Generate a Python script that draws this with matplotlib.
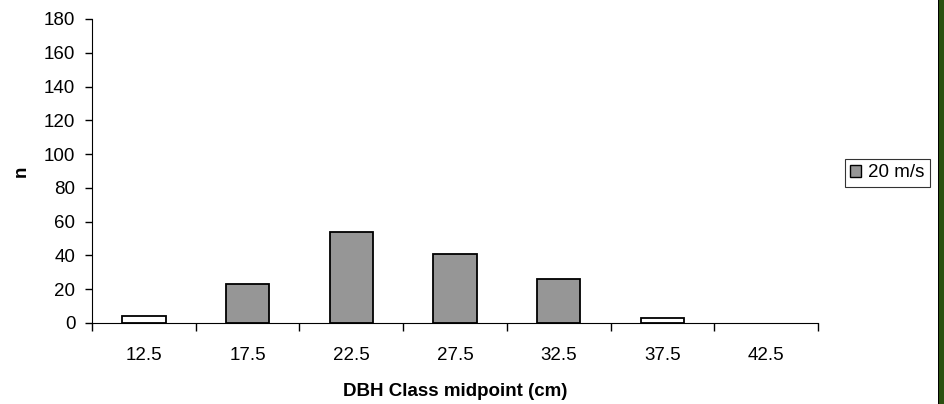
import numpy as np
import matplotlib.pyplot as plt
from matplotlib.patches import Rectangle, Patch

plt.rcParams["font.family"] = ["Liberation Sans", "DejaVu Sans"]

categories = ["12.5", "17.5", "22.5", "27.5", "32.5", "37.5", "42.5"]
counts = [4, 23, 54, 41, 26, 3, 0]
fill = ["white", "#969696", "#969696", "#969696", "#969696", "white", "white"]

fig = plt.figure(figsize=(9.44, 4.04), dpi=100)
ax = fig.add_axes([0.0975, 0.2005, 0.769, 0.7525])

x = np.arange(len(categories))
# skip outline on empty classes
edges = ["black" if c > 0 else "none" for c in counts]
ax.bar(x, counts, width=0.42, color=fill, edgecolor=edges, linewidth=1.3)

ax.set_xlim(-0.5, len(categories) - 0.5)
ax.set_ylim(0, 180)
ax.set_yticks(np.arange(0, 181, 20))
ax.set_xticks(np.arange(-0.5, len(categories) + 0.5, 1))
ax.set_xticklabels([])
ax.set_xticks(x, minor=True)
ax.set_xticklabels(categories, minor=True)
ax.tick_params(axis="x", which="minor", length=0, pad=17, labelsize=13.5)
ax.tick_params(axis="x", which="major", length=6, width=1)
ax.tick_params(axis="y", length=5, width=1, labelsize=13.5, pad=7)

for s in ["top", "right"]:
    ax.spines[s].set_visible(False)

ax.set_xlabel("DBH Class midpoint (cm)", fontweight="bold", fontsize=13.5, labelpad=14)
ax.set_ylabel("n", fontweight="bold", fontsize=13.5, labelpad=10)

leg = fig.legend(handles=[Patch(facecolor="#969696", edgecolor="black", label="20 m/s")],
                 loc="center right", bbox_to_anchor=(930 / 944, 0.572), frameon=True,
                 fancybox=False, edgecolor="black", fontsize=13.5,
                 handlelength=0.6, handleheight=0.6, handletextpad=0.35,
                 borderpad=0.3, borderaxespad=0)
leg.get_frame().set_linewidth(0.8)

# green strip at right edge
fig.patches.append(Rectangle((938 / 944, 0), 6 / 944, 1, transform=fig.transFigure,
                             facecolor="#2b5010", edgecolor="none"))
fig.patches.append(Rectangle((937.5 / 944, 0), 1.5 / 944, 1, transform=fig.transFigure,
                             facecolor="black", edgecolor="none"))

fig.savefig("out.png", dpi=100)
